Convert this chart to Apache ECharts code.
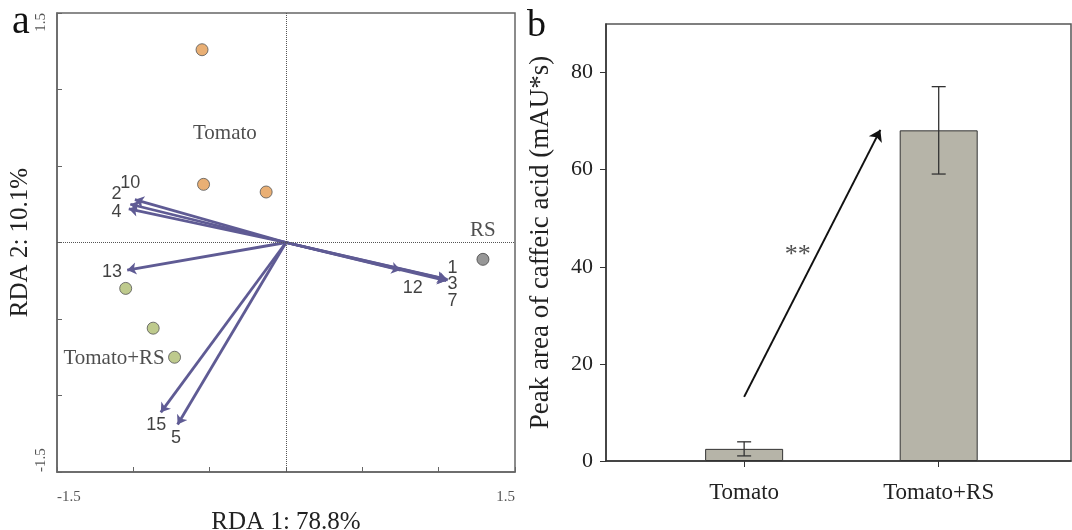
<!DOCTYPE html>
<html>
<head>
<meta charset="utf-8">
<script src="https://cdn.jsdelivr.net/npm/echarts@6/dist/echarts.min.js"></script>
<style>
  html, body { margin: 0; padding: 0; background: #fff; }
  #chart { width: 1072px; height: 530px; }
</style>
</head>
<body>
<div id="chart"></div>
<script>
// ---- Panel a: RDA biplot ----
const tomatoPoints = [[-0.55, 1.26], [-0.54, 0.38], [-0.13, 0.33]];
const tomatoRsPoints = [[-1.05, -0.30], [-0.87, -0.56], [-0.73, -0.75]];
const rsPoints = [[1.29, -0.11]];

// arrow tips [name, x, y]
const arrowTips = [
  ['10', -0.99, 0.28],
  ['2', -1.02, 0.25],
  ['4', -1.03, 0.22],
  ['13', -1.04, -0.18],
  ['15', -0.82, -1.11],
  ['5', -0.71, -1.19],
  ['1', 1.05, -0.24],
  ['3', 1.06, -0.245],
  ['7', 1.05, -0.25],
  ['12', 0.75, -0.18]
];
// where each arrow's number is written [name, x, y]
const arrowLabels = [
  ['10', -1.02, 0.39],
  ['2', -1.11, 0.32],
  ['4', -1.11, 0.20],
  ['13', -1.14, -0.19],
  ['15', -0.85, -1.19],
  ['5', -0.72, -1.28],
  ['1', 1.09, -0.17],
  ['3', 1.09, -0.27],
  ['7', 1.09, -0.38],
  ['12', 0.83, -0.30]
];
const groupLabels = [
  ['Tomato', -0.40, 0.71],
  ['Tomato+RS', -1.126, -0.755],
  ['RS', 1.29, 0.078]
];
const rdaTickLabels = [-1.5, 1.5];

// ---- Panel b: bar chart ----
const barCategories = ['Tomato', 'Tomato+RS'];
const barMeans = [2.5, 68.1];
const barErrors = [1.45, 9.0];
const yTicksB = [0, 20, 40, 60, 80];
const trendArrow = [[1.0, 13.2], [1.70, 68.2]];
const starMark = [1.275, 42.4];

const SERIF = '"Liberation Serif", "DejaVu Serif", serif';
const SANS = '"Liberation Sans", Arial, sans-serif';
const arrowColor = '#5f5b94';

const chart = echarts.init(document.getElementById('chart'));

const option = {
  backgroundColor: '#fff',
  animation: false,
  grid: [
    { left: 57, top: 13, width: 458, height: 459, show: true, borderColor: '#666', borderWidth: 1.5,
      outerBoundsMode: 'none', containLabel: false },
    { left: 606, top: 24, width: 465, height: 437, show: true, borderColor: '#555', borderWidth: 1.5,
      outerBoundsMode: 'none', containLabel: false }
  ],
  xAxis: [
    {
      type: 'value', gridIndex: 0, min: -1.5, max: 1.5, interval: 0.5,
      splitLine: { show: false },
      axisLine: { onZero: false, lineStyle: { color: '#666', width: 1.5 } },
      axisTick: { inside: true, length: 5, lineStyle: { color: '#666' } },
      axisLabel: {
        formatter: v => (rdaTickLabels.includes(v) ? String(v) : ''),
        alignMinLabel: 'left', alignMaxLabel: 'right',
        margin: 18, fontFamily: SERIF, fontSize: 15, color: '#555'
      },
      name: 'RDA 1: 78.8%', nameLocation: 'middle', nameGap: 30,
      nameTextStyle: { fontFamily: SERIF, fontSize: 25, color: '#222' }
    },
    {
      type: 'value', gridIndex: 1, min: 0.29, max: 2.68,
      splitLine: { show: false },
      axisLine: { onZero: false, lineStyle: { color: '#333', width: 1.5 } },
      axisTick: { customValues: [1, 2], length: 6, lineStyle: { color: '#333' } },
      axisLabel: {
        customValues: [1, 2],
        formatter: v => barCategories[Math.round(v) - 1],
        margin: 20, fontFamily: SERIF, fontSize: 23, color: '#222'
      }
    }
  ],
  yAxis: [
    {
      type: 'value', gridIndex: 0, min: -1.5, max: 1.5, interval: 0.5,
      splitLine: { show: false },
      axisLine: { onZero: false, lineStyle: { color: '#666', width: 1.5 } },
      axisTick: { inside: true, length: 5, lineStyle: { color: '#666' } },
      axisLabel: {
        formatter: v => (rdaTickLabels.includes(v) ? String(v) : ''),
        rotate: 90, alignMinLabel: 'left', alignMaxLabel: 'right',
        margin: 8, fontFamily: SERIF, fontSize: 15, color: '#555'
      },
      name: 'RDA 2: 10.1%', nameLocation: 'middle', nameGap: 22,
      nameTextStyle: { fontFamily: SERIF, fontSize: 25, color: '#222' }
    },
    {
      type: 'value', gridIndex: 1, min: 0, max: 90,
      splitLine: { show: false },
      axisLine: { onZero: false, lineStyle: { color: '#333', width: 1.5 } },
      axisTick: { customValues: yTicksB, length: 6, lineStyle: { color: '#333' } },
      axisLabel: {
        customValues: yTicksB,
        margin: 13, fontFamily: SERIF, fontSize: 22, color: '#222'
      },
      name: 'Peak area of caffeic acid (mAU*s)', nameLocation: 'middle', nameGap: 52,
      nameTextStyle: { fontFamily: SERIF, fontSize: 27, color: '#222' }
    }
  ],
  graphic: [
    { type: 'text', left: 12, top: 2, style: { text: 'a', font: '40px ' + SERIF, fill: '#111' } },
    { type: 'text', left: 527, top: 7, style: { text: 'b', font: '38px ' + SERIF, fill: '#111' } }
  ],
  series: [
    // dotted zero lines
    {
      type: 'scatter', xAxisIndex: 0, yAxisIndex: 0, data: [], silent: true,
      markLine: {
        symbol: 'none', silent: true, label: { show: false },
        lineStyle: { type: 'dotted', color: '#555', width: 1 },
        data: [{ xAxis: 0 }, { yAxis: 0 }]
      }
    },
    {
      type: 'lines', coordinateSystem: 'cartesian2d', xAxisIndex: 0, yAxisIndex: 0,
      symbol: ['none', 'arrow'], symbolSize: 9,
      lineStyle: { color: arrowColor, width: 2.8, opacity: 1 },
      data: arrowTips.map(t => ({ coords: [[0, 0], [t[1], t[2]]] }))
    },
    {
      type: 'scatter', xAxisIndex: 0, yAxisIndex: 0, symbolSize: 12,
      itemStyle: { color: '#e39b51', borderColor: '#555', borderWidth: 1 },
      data: tomatoPoints
    },
    {
      type: 'scatter', xAxisIndex: 0, yAxisIndex: 0, symbolSize: 12,
      itemStyle: { color: '#aebd70', borderColor: '#555', borderWidth: 1 },
      data: tomatoRsPoints
    },
    {
      type: 'scatter', xAxisIndex: 0, yAxisIndex: 0, symbolSize: 12,
      itemStyle: { color: '#7d7d7d', borderColor: '#444', borderWidth: 1 },
      data: rsPoints
    },
    {
      type: 'scatter', xAxisIndex: 0, yAxisIndex: 0, symbolSize: 0, silent: true,
      label: { show: true, position: 'inside', formatter: p => p.data.name,
        fontFamily: SANS, fontSize: 18, color: '#111' },
      data: arrowLabels.map(l => ({ name: l[0], value: [l[1], l[2]] }))
    },
    {
      type: 'scatter', xAxisIndex: 0, yAxisIndex: 0, symbolSize: 0, silent: true,
      label: { show: true, position: 'inside', formatter: p => p.data.name,
        fontFamily: SERIF, fontSize: 21, color: '#222' },
      data: groupLabels.map(l => ({ name: l[0], value: [l[1], l[2]] }))
    },
    // panel b
    {
      type: 'bar', xAxisIndex: 1, yAxisIndex: 1, barWidth: 78,
      itemStyle: { color: '#b6b4a8', borderColor: '#333', borderWidth: 1 },
      data: barMeans.map((m, i) => [i + 1, m])
    },
    {
      type: 'custom', xAxisIndex: 1, yAxisIndex: 1, silent: true, z: 5,
      data: barMeans.map((m, i) => [i + 1, m - barErrors[i], m + barErrors[i]]),
      renderItem: (params, api) => {
        const lo = api.coord([api.value(0), api.value(1)]);
        const hi = api.coord([api.value(0), api.value(2)]);
        const w = 7;
        const style = { stroke: '#333', lineWidth: 1.3 };
        return {
          type: 'group',
          children: [
            { type: 'line', shape: { x1: hi[0], y1: hi[1], x2: lo[0], y2: lo[1] }, style },
            { type: 'line', shape: { x1: hi[0] - w, y1: hi[1], x2: hi[0] + w, y2: hi[1] }, style },
            { type: 'line', shape: { x1: lo[0] - w, y1: lo[1], x2: lo[0] + w, y2: lo[1] }, style }
          ]
        };
      }
    },
    {
      type: 'lines', coordinateSystem: 'cartesian2d', xAxisIndex: 1, yAxisIndex: 1,
      symbol: ['none', 'arrow'], symbolSize: 11,
      lineStyle: { color: '#111', width: 2, opacity: 1 },
      data: [{ coords: trendArrow }]
    },
    {
      type: 'scatter', xAxisIndex: 1, yAxisIndex: 1, symbolSize: 0, silent: true,
      label: { show: true, position: 'inside', formatter: '**',
        fontFamily: SERIF, fontSize: 26, color: '#222' },
      data: [starMark]
    }
  ]
};

chart.setOption(option);
window.addEventListener('resize', () => chart.resize());
</script>
</body>
</html>
